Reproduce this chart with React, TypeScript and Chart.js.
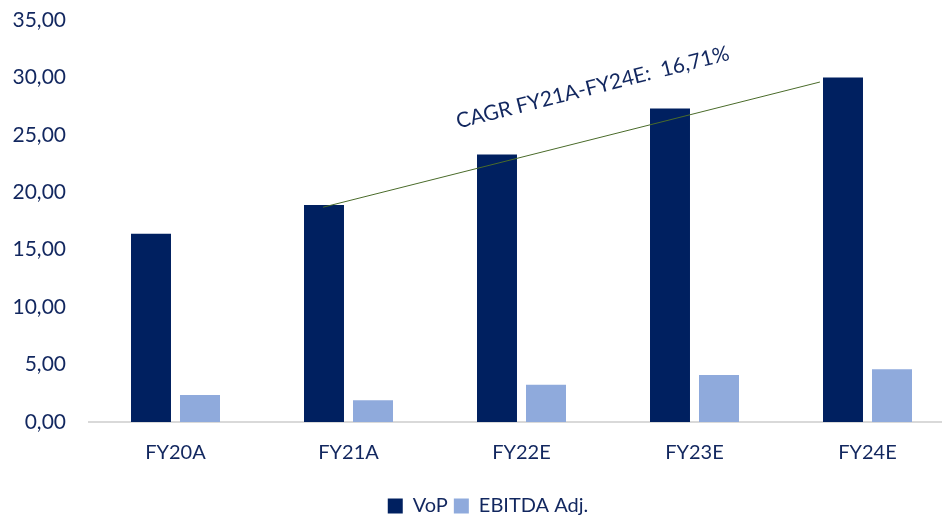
import React, { useEffect, useRef } from "react";
import { Chart, registerables } from "chart.js";

Chart.register(...registerables);

const categories = ["FY20A", "FY21A", "FY22E", "FY23E", "FY24E"];
const vopValues = [16.4, 18.9, 23.3, 27.3, 30.0];
const ebitdaValues = [2.35, 1.9, 3.25, 4.1, 4.6];
const yTicks = [0, 5, 10, 15, 20, 25, 30, 35];
const cagrLabel = "CAGR FY21A-FY24E:  16,71%";
// line endpoints in (category index, value) units
const cagrLineX = [0.853, 3.725];
const cagrLineY = [18.7, 29.6];
const cagrTextPos = [2.422, 28.55];

const TEXT = "#12275F";
const FONT = "Lato";

const cagrPlugin = {
  id: "cagr",
  afterLayout(chart: any) {
    const lg = chart.legend;
    if (lg) {
      lg.left += 11;
      lg.right += 11;
      lg.top += 6;
      lg.bottom += 6;
    }
  },
  afterDatasetsDraw(chart: any) {
    const { ctx, scales } = chart;
    const x = scales.x;
    const y = scales.y;
    ctx.save();
    ctx.strokeStyle = "#4A6B2A";
    ctx.lineWidth = 1;
    ctx.beginPath();
    ctx.moveTo(x.getPixelForValue(cagrLineX[0]), y.getPixelForValue(cagrLineY[0]));
    ctx.lineTo(x.getPixelForValue(cagrLineX[1]), y.getPixelForValue(cagrLineY[1]));
    ctx.stroke();
    const tx = x.getPixelForValue(cagrTextPos[0]);
    const ty = y.getPixelForValue(cagrTextPos[1]);
    ctx.translate(tx, ty);
    ctx.rotate((-14.2 * Math.PI) / 180);
    ctx.font = `21px ${FONT}`;
    ctx.fillStyle = TEXT;
    ctx.textAlign = "center";
    ctx.textBaseline = "alphabetic";
    ctx.fillText(cagrLabel, 0, 0);
    ctx.restore();
  },
};

export default function App() {
  const ref = useRef<HTMLCanvasElement | null>(null);
  useEffect(() => {
    if (!ref.current) return;
    const chart = new Chart(ref.current, {
      type: "bar",
      data: {
        labels: categories,
        datasets: [
          {
            label: "VoP",
            data: vopValues,
            backgroundColor: "#002060",
            categoryPercentage: 0.5665,
            barPercentage: 0.816,
          },
          {
            label: "EBITDA Adj.",
            data: ebitdaValues,
            backgroundColor: "#8FAADC",
            categoryPercentage: 0.5665,
            barPercentage: 0.816,
          },
        ],
      },
      options: {
        responsive: false,
        animation: false,
        layout: { padding: { top: 20, right: 0, left: 0, bottom: 0 } },
        plugins: {
          tooltip: { enabled: false },
          legend: {
            position: "bottom",
            labels: {
              color: TEXT,
              font: { family: FONT, size: 20 },
              boxWidth: 15,
              boxHeight: 15,
              padding: 6,
            },
          },
        },
        scales: {
          x: {
            grid: { display: false, drawTicks: false },
            border: { display: true, color: "#D9D9D9", width: 2 },
            ticks: { color: TEXT, font: { family: FONT, size: 20 }, padding: 19 },
          },
          y: {
            min: 0,
            max: 35,
            afterFit(scale: any) {
              scale.width = 89;
            },
            afterBuildTicks(scale: any) {
              scale.ticks = yTicks.map((v) => ({ value: v }));
            },
            grid: { display: false, drawTicks: true, tickLength: 23 },
            border: { display: false },
            ticks: {
              color: TEXT,
              font: { family: FONT, size: 21 },
              padding: 0,
              callback: (v: any) => Number(v).toFixed(2).replace(".", ","),
            },
          },
        },
      },
      plugins: [cagrPlugin],
    });
    return () => chart.destroy();
  }, []);
  return (
    <div
      style={{
        position: "fixed",
        left: 0,
        top: 0,
        width: 942,
        height: 520,
        overflow: "hidden",
        background: "#fff",
      }}
    >
      <canvas ref={ref} width={954} height={520} style={{ width: 954, height: 520 }} />
    </div>
  );
}
